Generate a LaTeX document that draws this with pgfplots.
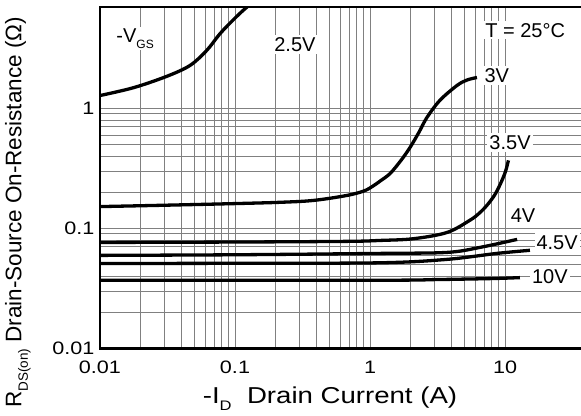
\documentclass[border=0pt]{standalone}
\usepackage{pgfplots}
\pgfplotsset{compat=1.18}
\usepackage{fontspec}
\setmainfont{Liberation Sans}
\newfontfamily\widefont{Liberation Sans}[FakeStretch=1.2]

\newcommand{\sub}[1]{\raisebox{-0.55ex}{\fontsize{0.6em}{0.6em}\selectfont #1}}
\tikzset{annot/.style={fill=white, inner sep=2bp, font=\fontsize{20bp}{22bp}\selectfont}}
\pgfplotsset{curve/.style={black, line width=3.3bp, smooth, tension=0.55, mark=none}}

\begin{document}
\begin{tikzpicture}
\begin{axis}[
    name=ax,
    xmode=log, ymode=log,
    scale only axis,
    width=486.3bp, height=341.4bp,
    xmin=0.01, xmax=40, ymin=0.01, ymax=7,
    axis line style={line width=2.4bp, black},
    grid=both,
    major grid style={black!50, line width=1bp},
    minor grid style={black!50, line width=1bp},
    major tick length=0pt, minor tick length=0pt,
    xtick={0.01,0.1,1,10}, xticklabels={0.01,0.1,1,10},
    ytick={0.01,0.1,1}, yticklabels={0.01,0.1,1},
    /pgf/number format/assume math mode=true,
    ticklabel style={font=\widefont\fontsize{18bp}{20bp}\selectfont},
    xticklabel style={yshift=-9bp},
    yticklabel style={xshift=-2bp},
    xlabel={-I\sub{D}\ \ Drain Current (A)},
    ylabel={R\sub{DS(on)}\ Drain-Source On-Resistance (Ω)},
    xlabel style={font=\widefont\fontsize{23bp}{25bp}\selectfont,
        at={(axis description cs:0.473,-0.148)}, anchor=center},
    ylabel style={font=\fontsize{22.5bp}{25bp}\selectfont,
        at={(axis description cs:-0.169,0.398)}, anchor=center, rotate=0},
]
% 2.5V
\addplot[curve] coordinates {(0.01,1.28) (0.0177,1.488) (0.0312,1.85) (0.0464,2.28) (0.0617,3.04) (0.0774,4.19) (0.0972,5.48) (0.1186,6.77) (0.141,7.9)};
% 3V
\addplot[curve] coordinates {(0.01,0.152) (0.03,0.156) (0.1,0.161) (0.215,0.165) (0.38,0.171) (0.67,0.188) (0.9,0.205) (1.05,0.225) (1.2,0.25) (1.41,0.287) (1.7,0.37) (1.98,0.473) (2.3,0.63) (2.64,0.84) (3.3,1.17) (4.4,1.55) (5.2,1.72) (6.2,1.81)};
% 3.5V
\addplot[curve] coordinates {(0.01,0.0764) (0.1,0.077) (0.68,0.078) (1.19,0.0794) (2.09,0.082) (3.72,0.0925) (5.5,0.117) (6.5,0.135) (7.5,0.16) (8.5,0.195) (9.4,0.245) (10.1,0.3) (10.6,0.369)};
% 4V
\addplot[curve] coordinates {(0.01,0.0596) (0.1,0.0603) (1.19,0.0619) (3.72,0.0631) (6.5,0.0694) (12.3,0.081)};
% 4.5V
\addplot[curve] coordinates {(0.01,0.051) (0.1,0.0512) (1.19,0.0517) (3.72,0.0552) (8.7,0.0619) (15.3,0.0657)};
% 10V
\addplot[curve] coordinates {(0.01,0.037) (1.19,0.037) (3.2,0.0375) (8,0.0382) (12.9,0.0389)};

\node[annot] at (axis cs:0.0182,3.83) {-V\sub{GS}};
\node[annot] at (axis cs:0.278,3.41) {2.5V};
\node[annot] at (axis cs:14.1,4.47) {T = 25°C};
\node[annot] at (axis cs:8.7,1.88) {3V};
\node[annot] at (axis cs:10.9,0.52) {3.5V};
\node[annot] at (axis cs:13.6,0.128) {4V};
\node[annot] at (axis cs:24.3,0.0764) {4.5V};
\node[annot] at (axis cs:21.5,0.0398) {10V};
\end{axis}
\pgfresetboundingbox
\path ([xshift=-100bp,yshift=-67bp]ax.south west) rectangle ([xshift=-5.3bp,yshift=7bp]ax.north east);
\end{tikzpicture}
\end{document}
